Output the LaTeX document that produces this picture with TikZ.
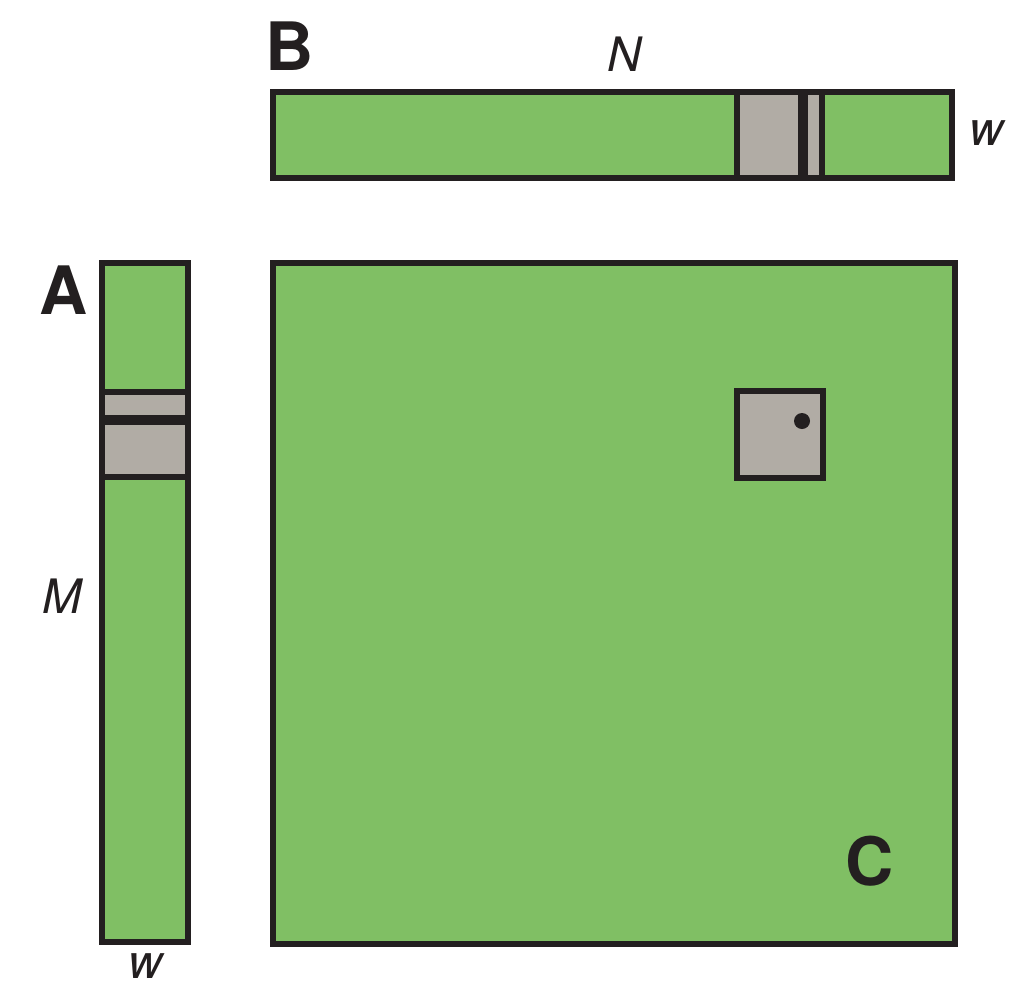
\documentclass[tikz,border=0pt]{standalone}
\usepackage{fontspec}
\setmainfont{TeX Gyre Heros}
\usepackage{xcolor}
\usepackage{tikz}

\definecolor{matgreen}{RGB}{128,191,100}
\definecolor{tilegray}{RGB}{177,172,165}
\definecolor{ink}{RGB}{35,31,32}

\begin{document}
\begin{tikzpicture}[x=0.02cm, y=-0.02cm,
  matbox/.style={fill=matgreen, draw=ink, line width=3.3pt},
  tilebox/.style={fill=tilegray, draw=ink, line width=3.3pt},
  rowbar/.style={draw=ink, line width=6.2pt},
  biglabel/.style={font=\fontsize{38}{38}\selectfont\bfseries, text=ink, inner sep=0pt},
  dimlabel/.style={font=\fontsize{27}{27}\selectfont\itshape, text=ink, inner sep=0pt}]
\useasboundingbox (0,0) rectangle (1034,994);
% matrices
\draw[matbox] (273,92) rectangle (952,178);
\draw[matbox] (102,263) rectangle (188,942);
\draw[matbox] (273,263) rectangle (955,944);
% tiles
\draw[tilebox] (737,92) rectangle (822,178);
\draw[rowbar] (803,92) -- (803,178);
\draw[tilebox] (102,392) rectangle (188,477);
\draw[rowbar] (102,420) -- (188,420);
\draw[tilebox] (737,391) rectangle (823,478);
\fill[ink] (802,421) circle (8);
% labels
\node[biglabel] (labB) at (290,46) {B};
\node[biglabel] (labA) at (64,290) {A};
\node[biglabel] (labC) at (870,861) {C};
\node[dimlabel] (labN) at (625,54) {N};
\node[dimlabel] (labwB) at (987,133) {w};
\node[dimlabel] (labM) at (62,596) {M};
\node[dimlabel] (labwA) at (146,966) {w};
\end{tikzpicture}
\end{document}
